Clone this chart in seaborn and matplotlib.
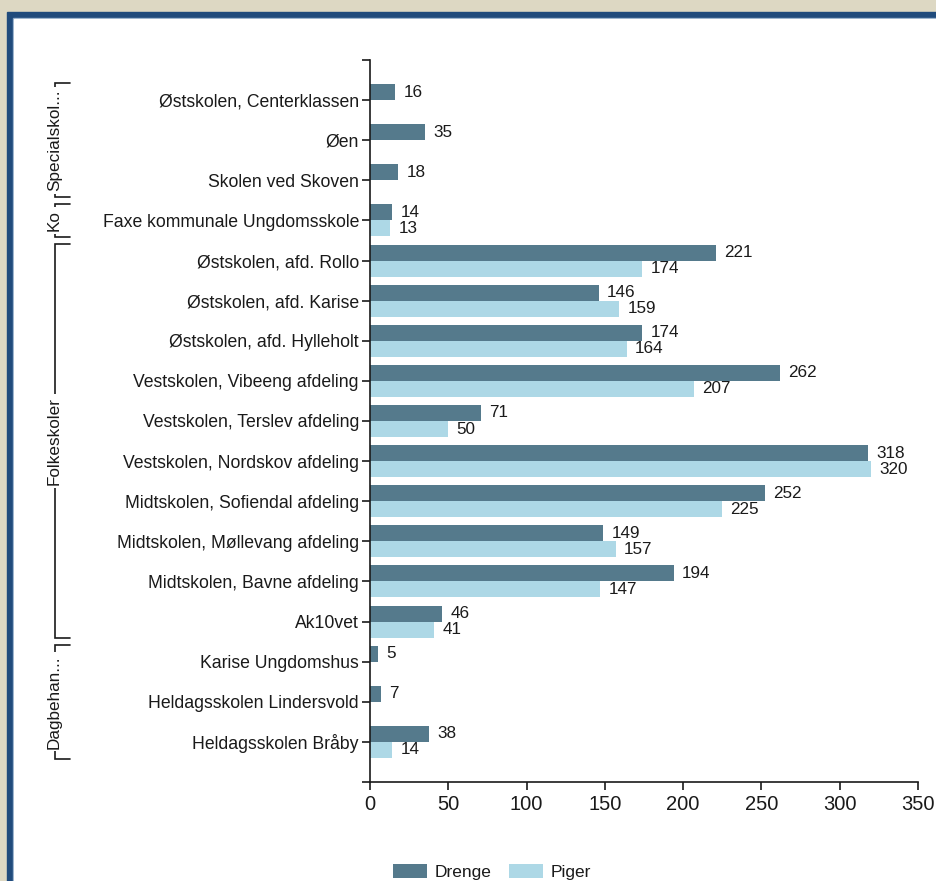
import matplotlib
matplotlib.use('Agg')
import matplotlib.pyplot as plt
import matplotlib.transforms as mtransforms
from matplotlib.patches import Rectangle
import numpy as np
import pandas as pd
import seaborn as sns

skoler = [
    'Østskolen, Centerklassen',
    'Øen',
    'Skolen ved Skoven',
    'Faxe kommunale Ungdomsskole',
    'Østskolen, afd. Rollo',
    'Østskolen, afd. Karise',
    'Østskolen, afd. Hylleholt',
    'Vestskolen, Vibeeng afdeling',
    'Vestskolen, Terslev afdeling',
    'Vestskolen, Nordskov afdeling',
    'Midtskolen, Sofiendal afdeling',
    'Midtskolen, Møllevang afdeling',
    'Midtskolen, Bavne afdeling',
    'Ak10vet',
    'Karise Ungdomshus',
    'Heldagsskolen Lindersvold',
    'Heldagsskolen Bråby',
]
drenge = [16, 35, 18, 14, 221, 146, 174, 262, 71, 318, 252, 149, 194, 46, 5, 7, 38]
piger = [np.nan, np.nan, np.nan, 13, 174, 159, 164, 207, 50, 320, 225, 157, 147, 41, np.nan, np.nan, 14]

grupper = ['Specialskol...', 'Ko', 'Folkeskoler', 'Dagbehan...']
gruppe_fra = [0, 3, 4, 14]
gruppe_til = [2, 3, 13, 16]

farver = ['#557a8c', '#add8e6']
tekst = '#1a1a1a'

df = pd.concat([
    pd.DataFrame({'skole': skoler, 'antal': drenge, 'koen': 'Drenge'}),
    pd.DataFrame({'skole': skoler, 'antal': piger, 'koen': 'Piger'}),
]).dropna()

sns.set_style('ticks')
plt.rcParams['font.family'] = ['Liberation Sans', 'DejaVu Sans']
plt.rcParams['text.color'] = tekst

W, H = 936, 881
fig = plt.figure(figsize=(W / 100, H / 100), dpi=100)
fig.patch.set_facecolor('#ddd8c3')
# window frame
fig.add_artist(Rectangle((7 / W, 0), 1, 1 - 12 / H, transform=fig.transFigure, color='#204b7c', zorder=-3))
fig.add_artist(Rectangle((13 / W, 0), 1, 1 - 18 / H, transform=fig.transFigure, color='#8aa6c4', zorder=-2))
fig.add_artist(Rectangle((14 / W, 0), 1, 1 - 19 / H, transform=fig.transFigure, color='white', zorder=-1))

ax = fig.add_axes([370 / W, 1 - 782 / H, 548 / W, 722 / H])
ax.set_facecolor('none')

sns.barplot(data=df, y='skole', x='antal', hue='koen', order=skoler,
            hue_order=['Drenge', 'Piger'], palette=farver, orient='h',
            width=0.8, saturation=1, linewidth=0, ax=ax)

for c in ax.containers:
    ax.bar_label(c, fmt='%d', padding=6, fontsize=12.3, color=tekst)

ax.set_xlim(0, 350)
ax.set_ylim(17, -1)
ax.set_xticks(range(0, 351, 50))
ax.set_yticks([-1, 17], minor=True)
ax.set_xlabel('')
ax.set_ylabel('')
for s in ['top', 'right']:
    ax.spines[s].set_visible(False)
for s in ['left', 'bottom']:
    ax.spines[s].set_color('#1a1a1a')
    ax.spines[s].set_linewidth(1.2)
ax.tick_params(axis='y', which='both', length=6, width=1.2, color='#1a1a1a', labelsize=12.7, pad=2, labelcolor=tekst)
ax.tick_params(axis='x', length=6, width=1.2, color='#1a1a1a', labelsize=14.5, pad=3, labelcolor=tekst)

# group brackets on the left
tr = mtransforms.blended_transform_factory(fig.transFigure, ax.transData)
xl, xr = 54.5 / W, 70 / W
for navn, a, b in zip(grupper, gruppe_fra, gruppe_til):
    y0, y1 = a - 0.42, b + 0.42
    ax.plot([xr, xl, xl, xr], [y0, y0, y1, y1], transform=tr, color='#1a1a1a',
            lw=1.2, clip_on=False, solid_joinstyle='miter')
    ax.text(xl, (y0 + y1) / 2, navn, transform=tr, rotation=90, ha='center', va='center',
            fontsize=12.3, color=tekst,
            bbox=dict(facecolor='white', edgecolor='none', pad=2))

sns.move_legend(ax, 'upper left', bbox_to_anchor=(384 / W, 1 - 855 / H),
                bbox_transform=fig.transFigure, ncol=2, title=None, frameon=False,
                fontsize=12.5, borderpad=0, handlelength=2.0, handleheight=0.9,
                handletextpad=0.4, columnspacing=1.0)

fig.savefig('out.png', dpi=100, facecolor=fig.get_facecolor())
